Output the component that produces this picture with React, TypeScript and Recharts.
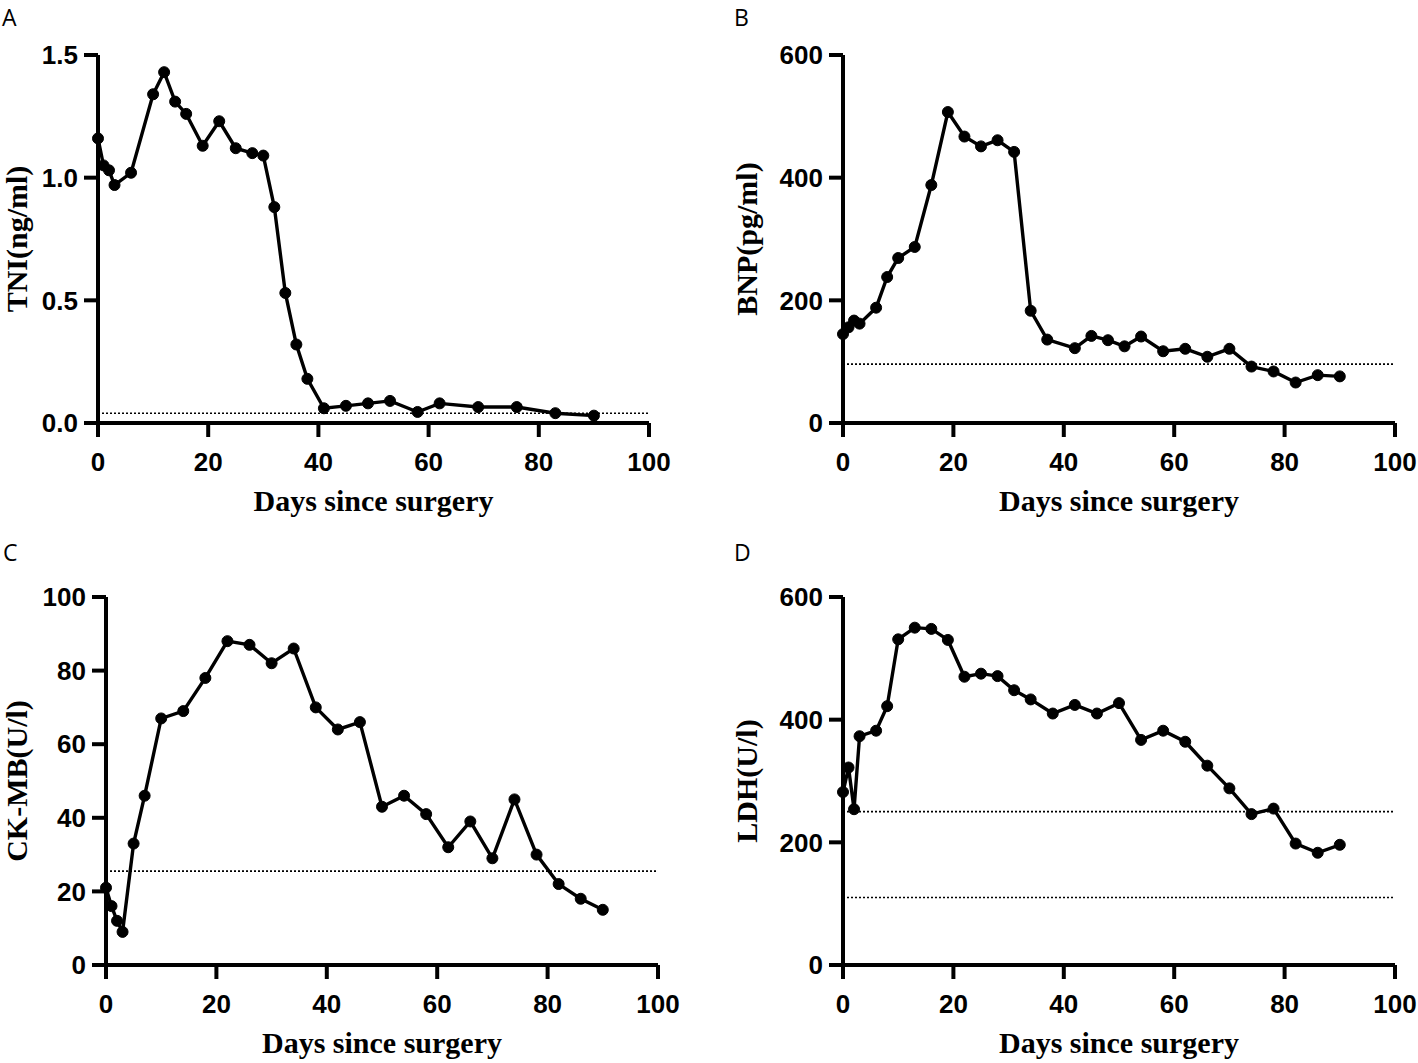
import React from 'react';
import { LineChart, Line, XAxis, YAxis, ReferenceLine, Label } from 'recharts';

const dayTicks = [0, 20, 40, 60, 80, 100];

const tniDays = [0, 1, 2, 3, 6, 10, 12, 14, 16, 19, 22, 25, 28, 30, 32, 34, 36, 38, 41, 45, 49, 53, 58, 62, 69, 76, 83, 90];
const tniValues = [1.16, 1.05, 1.03, 0.97, 1.02, 1.34, 1.43, 1.31, 1.26, 1.13, 1.23, 1.12, 1.10, 1.09, 0.88, 0.53, 0.32, 0.18, 0.06, 0.07, 0.08, 0.09, 0.045, 0.08, 0.065, 0.065, 0.04, 0.03];
const tniTicks = [0, 0.5, 1.0, 1.5];
const tniRefs = [0.04];

const bnpDays = [0, 1, 2, 3, 6, 8, 10, 13, 16, 19, 22, 25, 28, 31, 34, 37, 42, 45, 48, 51, 54, 58, 62, 66, 70, 74, 78, 82, 86, 90];
const bnpValues = [145, 156, 167, 162, 188, 238, 269, 287, 388, 507, 467, 451, 461, 442, 183, 136, 122, 142, 135, 125, 141, 117, 121, 108, 121, 92, 84, 66, 78, 76];
const bnpTicks = [0, 200, 400, 600];
const bnpRefs = [96];

const ckDays = [0, 1, 2, 3, 5, 7, 10, 14, 18, 22, 26, 30, 34, 38, 42, 46, 50, 54, 58, 62, 66, 70, 74, 78, 82, 86, 90];
const ckValues = [21, 16, 12, 9, 33, 46, 67, 69, 78, 88, 87, 82, 86, 70, 64, 66, 43, 46, 41, 32, 39, 29, 45, 30, 22, 18, 15];
const ckTicks = [0, 20, 40, 60, 80, 100];
const ckRefs = [25.5];

const ldhDays = [0, 1, 2, 3, 6, 8, 10, 13, 16, 19, 22, 25, 28, 31, 34, 38, 42, 46, 50, 54, 58, 62, 66, 70, 74, 78, 82, 86, 90];
const ldhValues = [282, 322, 254, 373, 382, 422, 531, 550, 548, 530, 470, 475, 471, 448, 433, 410, 424, 410, 427, 367, 382, 364, 325, 288, 246, 255, 198, 183, 196];
const ldhTicks = [0, 200, 400, 600];
const ldhRefs = [250, 110];

const toRows = (days: number[], values: number[]) => days.map((d, i) => ({ day: d, value: values[i] }));

const tickFont = {
  fontFamily: "'Liberation Sans', Arial, sans-serif",
  fontWeight: 700,
  fontSize: 26,
  fill: '#000',
};
const titleFont = "'Liberation Serif', 'Times New Roman', serif";

type PanelProps = {
  left: number;
  top: number;
  width: number;
  height: number;
  plotLeft: number;
  plotRight: number;
  plotTop: number;
  plotBottom: number;
  days: number[];
  values: number[];
  yTicks: number[];
  yFmt?: (v: number) => string;
  refs: number[];
  yTitle: string;
  yTitleOffset: number;
};

function Panel(p: PanelProps) {
  const yAxisW = 98;
  const xAxisH = 90;
  const margin = {
    top: p.plotTop,
    left: p.plotLeft - yAxisW,
    right: p.width - p.plotRight,
    bottom: p.height - p.plotBottom - xAxisH,
  };
  const rows = toRows(p.days, p.values);
  const yMax = p.yTicks[p.yTicks.length - 1];
  return (
    <div style={{ position: 'absolute', left: p.left, top: p.top, width: p.width, height: p.height }}>
      <LineChart width={p.width} height={p.height} data={rows} margin={margin}>
        <XAxis
          type="number"
          dataKey="day"
          domain={[0, 100]}
          ticks={dayTicks}
          interval={0}
          height={xAxisH}
          tickSize={14}
          tickMargin={16}
          axisLine={{ stroke: '#000', strokeWidth: 4 }}
          tickLine={{ stroke: '#000', strokeWidth: 4 }}
          tick={tickFont}
        >
          <Label
            content={(props: any) => {
              const vb = props.viewBox || {};
              return (
                <text
                  x={vb.x + vb.width / 2}
                  y={vb.y + 88}
                  textAnchor="middle"
                  fontFamily={titleFont}
                  fontWeight={700}
                  fontSize={30}
                  fill="#000"
                >
                  Days since surgery
                </text>
              );
            }}
          />
        </XAxis>
        <YAxis
          type="number"
          domain={[0, yMax]}
          ticks={p.yTicks}
          interval={0}
          width={yAxisW}
          tickSize={14}
          tickMargin={6}
          tickFormatter={p.yFmt}
          axisLine={{ stroke: '#000', strokeWidth: 4 }}
          tickLine={{ stroke: '#000', strokeWidth: 4 }}
          tick={tickFont}
        >
          <Label
            content={(props: any) => {
              const vb = props.viewBox || {};
              const bx = vb.x + vb.width - p.yTitleOffset;
              const cy = vb.y + vb.height / 2;
              return (
                <text
                  x={bx}
                  y={cy}
                  transform={`rotate(-90 ${bx} ${cy})`}
                  textAnchor="middle"
                  fontFamily={titleFont}
                  fontWeight={700}
                  fontSize={30}
                  fill="#000"
                >
                  {p.yTitle}
                </text>
              );
            }}
          />
        </YAxis>
        {p.refs.map((r) => (
          <ReferenceLine key={r} y={r} stroke="#000" strokeWidth={1.6} strokeDasharray="2 2" />
        ))}
        <Line
          type="linear"
          dataKey="value"
          stroke="#000"
          strokeWidth={3.4}
          dot={{ r: 5.5, fill: '#000', stroke: '#000', strokeWidth: 1 }}
          activeDot={false}
          isAnimationActive={false}
        />
      </LineChart>
    </div>
  );
}

const letterStyle = {
  fontFamily: "'Open Sans', 'Noto Sans', sans-serif",
  fontSize: 23,
  fill: '#000',
};

export default function App() {
  return (
    <div style={{ position: 'absolute', left: 0, top: 0, width: 1418, height: 1063, background: '#fff' }}>
      <Panel
        left={0} top={0} width={709} height={531}
        plotLeft={98} plotRight={649} plotTop={55} plotBottom={423}
        days={tniDays} values={tniValues} yTicks={tniTicks}
        yFmt={(v: number) => v.toFixed(1)} refs={tniRefs}
        yTitle="TNI(ng/ml)" yTitleOffset={71}
      />
      <Panel
        left={709} top={0} width={709} height={531}
        plotLeft={134} plotRight={686} plotTop={55} plotBottom={423}
        days={bnpDays} values={bnpValues} yTicks={bnpTicks}
        refs={bnpRefs}
        yTitle="BNP(pg/ml)" yTitleOffset={86}
      />
      <Panel
        left={0} top={531} width={709} height={532}
        plotLeft={106} plotRight={658} plotTop={66} plotBottom={434}
        days={ckDays} values={ckValues} yTicks={ckTicks}
        refs={ckRefs}
        yTitle="CK-MB(U/l)" yTitleOffset={79}
      />
      <Panel
        left={709} top={531} width={709} height={532}
        plotLeft={134} plotRight={686} plotTop={66} plotBottom={434}
        days={ldhDays} values={ldhValues} yTicks={ldhTicks}
        refs={ldhRefs}
        yTitle="LDH(U/l)" yTitleOffset={86}
      />
      <svg width={1418} height={1063} style={{ position: 'absolute', left: 0, top: 0, pointerEvents: 'none' }}>
        <text x={2} y={26} {...letterStyle}>A</text>
        <text x={734} y={26} {...letterStyle}>B</text>
        <text x={3} y={561} {...letterStyle}>C</text>
        <text x={734} y={561} {...letterStyle}>D</text>
      </svg>
    </div>
  );
}
